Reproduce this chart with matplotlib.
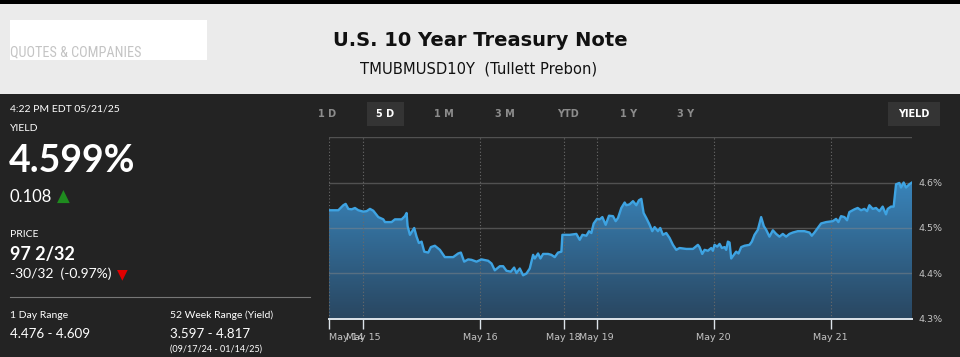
import matplotlib
matplotlib.use('Agg')
import matplotlib.pyplot as plt
import numpy as np
from matplotlib import font_manager as fm
from matplotlib.patches import Rectangle, Polygon
from matplotlib.colors import LinearSegmentedColormap

# ---------------- data ----------------
# trading hours elapsed since May 14 17:00 (weekend gap removed)
hours = [0.00, 1.91, 2.94, 3.42, 3.97, 4.65, 5.33, 6.02, 7.04, 7.73, 8.41, 9.09,
         10.12, 11.15, 11.49, 12.85, 13.54, 14.91, 15.59, 15.93, 16.14, 16.62,
         17.09, 17.50, 17.98, 18.46, 19.01, 19.56, 20.38, 20.92, 21.74, 22.77,
         23.79, 25.50, 26.53, 27.08, 27.76, 28.58, 29.27, 30.29, 31.32, 32.68,
         33.37, 34.05, 35.08, 35.76, 36.44, 37.33, 38.02, 38.50, 39.18, 39.86,
         40.55, 41.23, 41.92, 42.26, 42.94, 43.42, 43.97, 44.99, 45.67, 46.36,
         47.04, 47.73, 47.93, 49.44, 50.80, 51.49, 52.04, 52.86, 53.40, 53.88,
         54.36, 55.04, 55.59, 56.14, 56.82, 57.50, 58.32, 58.87, 59.35, 60.03,
         60.72, 61.06, 61.74, 62.43, 63.11, 63.66, 64.14, 64.61, 65.16, 65.85,
         66.39, 66.87, 67.55, 68.03, 68.58, 69.26, 69.95, 70.63, 71.32, 72.00,
         73.37, 74.74, 75.76, 76.10, 76.65, 77.13, 77.81, 78.50, 78.84,
         79.18, 79.73, 80.21, 80.68, 81.23, 81.57, 81.92, 82.26, 82.60, 83.15,
         83.62, 84.10, 84.65, 85.33, 86.36, 86.84, 87.39, 88.07, 88.75, 89.30,
         89.78, 90.46, 91.15, 91.83, 92.51, 93.20, 93.88, 94.56, 95.25, 96.27,
         97.64, 98.67, 99.15, 99.69, 100.38, 101.06, 102.09, 103.45, 104.14,
         104.62, 105.16, 105.85, 106.39, 106.87, 107.90, 108.58, 109.27, 109.95,
         110.50, 110.98, 111.66, 112.34, 113.03, 113.71, 114.39, 114.74, 115.42,
         115.97, 116.45, 117.13, 117.47, 118.02, 118.50, 119.18, 119.73]
yields = [4.539, 4.539, 4.550, 4.553, 4.542, 4.541, 4.544, 4.539, 4.536, 4.537, 4.542, 4.538,
          4.524, 4.519, 4.513, 4.513, 4.519, 4.519, 4.526, 4.533, 4.504, 4.485,
          4.493, 4.500, 4.481, 4.467, 4.470, 4.448, 4.446, 4.458, 4.461, 4.452,
          4.436, 4.436, 4.444, 4.446, 4.426, 4.431, 4.430, 4.426, 4.431, 4.428,
          4.422, 4.407, 4.416, 4.416, 4.406, 4.404, 4.413, 4.401, 4.411, 4.396,
          4.400, 4.411, 4.441, 4.433, 4.444, 4.433, 4.443, 4.443, 4.441, 4.436,
          4.446, 4.448, 4.485, 4.485, 4.487, 4.474, 4.485, 4.483, 4.493, 4.489,
          4.510, 4.520, 4.519, 4.524, 4.507, 4.527, 4.526, 4.515, 4.522, 4.544,
          4.556, 4.550, 4.552, 4.559, 4.550, 4.561, 4.564, 4.533, 4.522, 4.507,
          4.493, 4.502, 4.493, 4.500, 4.485, 4.489, 4.478, 4.463, 4.452, 4.456,
          4.454, 4.454, 4.463, 4.458, 4.443, 4.452, 4.450, 4.456, 4.450,
          4.463, 4.459, 4.465, 4.456, 4.458, 4.452, 4.470, 4.468, 4.433, 4.441,
          4.448, 4.444, 4.458, 4.461, 4.463, 4.470, 4.485, 4.496, 4.524, 4.504,
          4.496, 4.481, 4.495, 4.487, 4.481, 4.487, 4.481, 4.487, 4.490, 4.493,
          4.493, 4.490, 4.483, 4.490, 4.500, 4.510, 4.513, 4.515, 4.520,
          4.513, 4.526, 4.524, 4.517, 4.535, 4.541, 4.544, 4.539, 4.542,
          4.537, 4.550, 4.542, 4.544, 4.537, 4.547, 4.530, 4.542, 4.547,
          4.547, 4.596, 4.599, 4.589, 4.600, 4.589, 4.596, 4.600]

tick_pos = [0, 7, 31, 48.2, 55, 79, 103]
tick_labels = ['May 14', 'May 15', 'May 16', 'May 18', 'May 19', 'May 20', 'May 21']
y_ticks = [4.3, 4.4, 4.5, 4.6]
y_tick_labels = ['4.3%', '4.4%', '4.5%', '4.6%']
tabs = ['1 D', '5 D', '1 M', '3 M', 'YTD', '1 Y', '3 Y']

# ---------------- fonts ----------------
avail = {f.name for f in fm.fontManager.ttflist}
def pick(*names):
    for n in names:
        if n in avail:
            return n
    return 'DejaVu Sans'
narrow = pick('Liberation Sans Narrow', 'DejaVu Sans Condensed', 'Roboto Condensed', 'Lato')
body = pick('Lato', 'Open Sans', 'Roboto')

W, H = 960, 357
fig = plt.figure(figsize=(W / 100, H / 100), dpi=100)
fig.patch.set_facecolor('#232323')

def fx(x):
    return x / W
def fy(y):
    return 1 - y / H

def rect(x0, y0, x1, y1, color):
    fig.add_artist(Rectangle((fx(x0), fy(y1)), fx(x1) - fx(x0), fy(y0) - fy(y1),
                             transform=fig.transFigure, facecolor=color,
                             edgecolor='none', zorder=0))

def txt(x, y, s, size, color='white', weight='normal', family=None, ha='left', **kw):
    fig.text(fx(x), fy(y), s, fontsize=size, color=color, weight=weight,
             family=family or body, ha=ha, va='baseline', **kw)

# ---------------- header ----------------
rect(0, 0, W, 4, '#000000')
rect(0, 4, W, 94, '#ebebeb')
rect(10, 20, 207, 60, '#ffffff')
txt(10, 56, 'QUOTES & COMPANIES', 10.3, color='#c4c4c4', family=narrow)
txt(480, 45.5, 'U.S. 10 Year Treasury Note', 14, color='#111111', weight='bold',
    family='DejaVu Sans', ha='center')
txt(479, 74, 'TMUBMUSD10Y  (Tullett Prebon)', 10.6, color='#111111',
    family='DejaVu Sans', ha='center')

# ---------------- left panel ----------------
txt(10, 111.5, '4:22 PM EDT 05/21/25', 7.5)
txt(10, 130.7, 'YIELD', 7.5)
txt(9, 171.7, '4.599%', 27, weight='bold')
txt(10, 201.7, '0.108', 12)
txt(57, 201.5, '\u25B2', 12, color='#1f8c1f', family='DejaVu Sans')
txt(10, 236.7, 'PRICE', 7.5)
txt(10, 260, '97 2/32', 13, weight='bold')
txt(10, 278.3, '-30/32  (-0.97%)', 10)
txt(117, 278.5, '\u25BC', 10, color='#e00000', family='DejaVu Sans')
fig.add_artist(plt.Line2D([fx(10), fx(310)], [fy(297), fy(297)],
                          transform=fig.transFigure, color='#777777', lw=0.8))
txt(10, 318, '1 Day Range', 7.5)
txt(10, 338, '4.476 - 4.609', 9.6)
txt(170, 318, '52 Week Range (Yield)', 7.5)
txt(170, 338, '3.597 - 4.817', 9.6)
txt(170, 351.5, '(09/17/24 - 01/14/25)', 6.5)

# ---------------- tabs ----------------
rect(367, 102, 404, 126, '#343434')
rect(888, 102, 940, 126, '#343434')
tab_x = [327, 385, 444, 505, 568, 629, 686]
for t, x in zip(tabs, tab_x):
    txt(x, 116.7, t, 7, color='white' if t == '5 D' else '#8c8c8c',
        weight='bold', family='DejaVu Sans', ha='center')
txt(914, 116.7, 'YIELD', 7, color='white', weight='bold', family='DejaVu Sans', ha='center')

# ---------------- chart ----------------
ax = fig.add_axes([fx(329), fy(319), fx(912) - fx(329), fy(137) - fy(319)])
ax.set_facecolor('none')
x0, x1 = 0, 119.73

cmap = LinearSegmentedColormap.from_list('g', ['#294660', '#3a88c0'])
grad = np.linspace(0, 1, 256).reshape(-1, 1)
im = ax.imshow(grad, extent=[x0, x1, 4.3, 4.62], origin='lower', aspect='auto',
               cmap=cmap, zorder=1, interpolation='bilinear')
verts = [(hours[0], 4.3)] + list(zip(hours, yields)) + [(hours[-1], 4.3)]
clip = Polygon(verts, closed=True, facecolor='none', edgecolor='none',
               transform=ax.transData)
ax.add_patch(clip)
im.set_clip_path(clip)
ax.set_ylim(4.3, 4.7)
ax.set_xlim(x0, x1)

for yv in [4.4, 4.5, 4.6, 4.7]:
    ax.axhline(yv, color='#8a8a8a', alpha=0.45, lw=1, zorder=2)
for xv in tick_pos:
    ax.axvline(xv, color='#6a6a6a', lw=0.8, ls=(0, (1, 2)), zorder=2)

ax.plot(hours, yields, color='#3ea3e2', lw=1.7, zorder=4, solid_joinstyle='round')

for s in ['top', 'left', 'right']:
    ax.spines[s].set_visible(False)
ax.spines['bottom'].set_color('#dde4ea')
ax.spines['bottom'].set_linewidth(1.4)
ax.spines['bottom'].set_zorder(5)

ax.set_xticks(tick_pos)
ax.set_xticklabels(tick_labels)
ax.tick_params(axis='x', colors='#dde4ea', length=7, width=1, labelsize=6.8,
               labelcolor='#c4c4c4', pad=3)
lbls = ax.get_xticklabels()
lbls[0].set_horizontalalignment('left')

ax.yaxis.tick_right()
ax.set_yticks(y_ticks)
ax.set_yticklabels(y_tick_labels)
ax.tick_params(axis='y', length=0, labelsize=6.8, labelcolor='#c4c4c4', pad=5)

fig.savefig('out.png', dpi=100, facecolor=fig.get_facecolor())
